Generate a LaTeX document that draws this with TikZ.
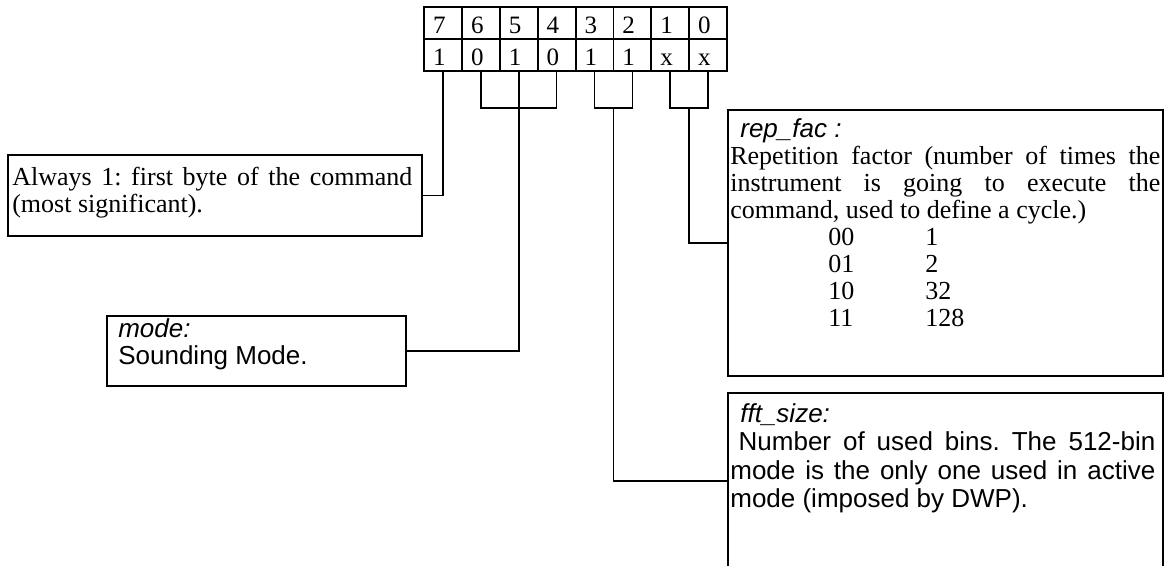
\documentclass[tikz,border=0pt]{standalone}
\usepackage{fontspec}
\setmainfont{Liberation Serif}
\setsansfont{Liberation Sans}
\usetikzlibrary{calc}
\frenchspacing
\begin{document}
\frenchspacing
\begin{tikzpicture}[x=0.6pt,y=-0.6pt,
  cell/.style={draw, line width=1.1pt, minimum width=22.7pt, minimum height=19.35pt,
    inner sep=0pt, anchor=north west, text width=22.7pt, align=left,
    text height=12pt, text depth=0pt, font=\fontsize{15}{18}\selectfont},
  infobox/.style={draw, line width=1.1pt, inner sep=0pt},
  conn/.style={line width=1pt},
  txt/.style={anchor=north west, inner sep=0pt, align=left},
  bodyfont/.style={font=\fontsize{15.6}{16.2}\selectfont\frenchspacing}]
\useasboundingbox (0,0) rectangle (1171,566);
\fill[white] (0,0) rectangle (1171,566);
\clip (0,0) rectangle (1171,566);

% bit table
\foreach \b/\v [count=\i from 0] in {7/1,6/0,5/1,4/0,3/1,2/1,1/x,0/x}{
  \node[cell] (h\b) at ({423.3+\i*37.84},6) {\hspace*{5.4pt}\b};
  \node[cell] (v\b) at ({423.3+\i*37.84},38.25) {\hspace*{5.4pt}\v};
}

% boxes
\node[infobox, minimum width=248.4pt, minimum height=48.6pt] (always) at (215,195.5) {};
\node[infobox, minimum width=179.4pt, minimum height=42pt] (mode) at (256.5,351) {};
\node[infobox, minimum width=261pt, minimum height=159.6pt] (rep) at (945.5,243) {};
\node[infobox, minimum width=261pt, minimum height=105.6pt] (fft) at (945.5,481) {};

% texts
\node[txt, bodyfont] (alwaystxt) at (12,166)
  {\makebox[240pt][s]{\strut Always 1: first byte of the command}\\(most significant).};
\node[txt, font=\sffamily\fontsize{15.6}{16.2}\selectfont\frenchspacing] (modetxt) at (118,318)
  {\strut\textit{mode:}\\Sounding Mode.};
\node[txt, bodyfont] (reptxt) at (730,118)
  {\strut\hspace*{6pt}\textsf{\textit{rep\_fac :}}\\
   \makebox[258pt][s]{Repetition factor (number of times the}\\
   \makebox[258pt][s]{instrument is going to execute the}\\
   command, used to define a cycle.)\\
   \hspace*{58.8pt}\makebox[58.2pt][l]{00}1\\
   \hspace*{58.8pt}\makebox[58.2pt][l]{01}2\\
   \hspace*{58.8pt}\makebox[58.2pt][l]{10}32\\
   \hspace*{58.8pt}\makebox[58.2pt][l]{11}128};
\node[txt, font=\sffamily\fontsize{15.6}{17.1}\selectfont\frenchspacing] (ffttxt) at (730,402)
  {\strut\hspace*{6pt}\textit{fft\_size:}\\
   \makebox[255pt][s]{\hspace*{5pt}Number of used bins. The 512-bin}\\
   \makebox[255pt][s]{mode is the only one used in active}\\
   mode (imposed by DWP).};

% connectors
\coordinate (brk) at (0,108);
\draw[conn] (v7.south) |- (always.east);
\draw[conn] (v6.south) |- (v4.south |- brk) -- (v4.south);
\draw[conn] (v5.south) |- (mode.east);
\draw[conn] (v3.south) |- (v2.south |- brk) -- (v2.south);
\draw[conn] ($(v3.south |- brk)!0.5!(v2.south |- brk)$) |- (fft.west);
\draw[conn] (v1.south) |- (v0.south |- brk) -- (v0.south);
\draw[conn] ($(v1.south |- brk)!0.5!(v0.south |- brk)$) |- (rep.west);
\end{tikzpicture}
\end{document}
